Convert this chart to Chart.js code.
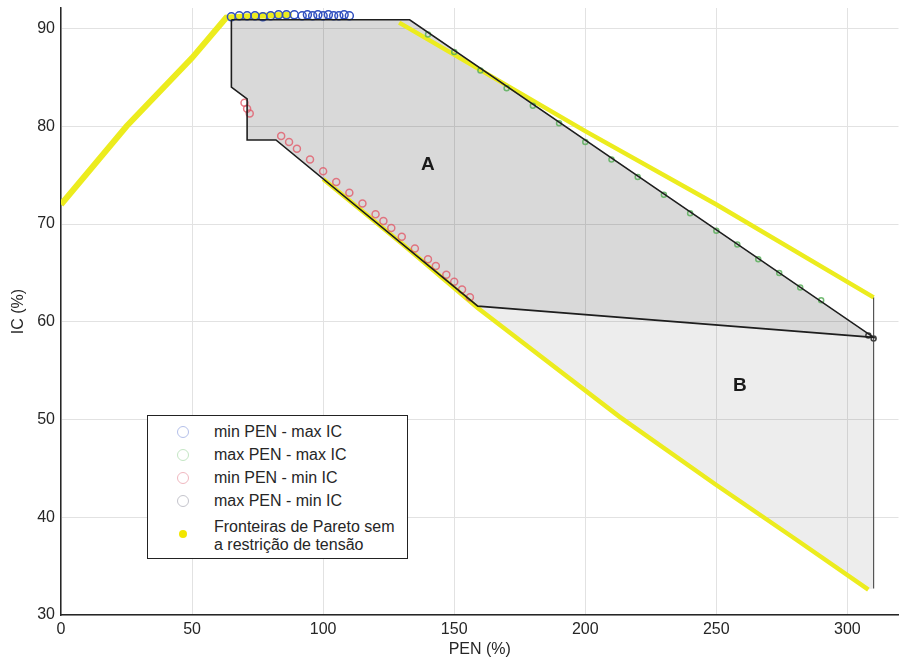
<!DOCTYPE html>
<html>
<head>
<meta charset="utf-8">
<script src="https://cdn.jsdelivr.net/npm/chart.js@4.4.1/dist/chart.umd.min.js"></script>
<style>
  body { margin: 0; background: #fff; }
  #wrap { position: relative; width: 904px; height: 664px; }
  #legend {
    position: absolute; left: 147px; top: 415px; width: 259px; height: 142px;
    border: 1px solid #222; background: #fff;
    font-family: "Liberation Sans", Arial, sans-serif; font-size: 16px; color: #262626;
  }
  #legend .mk { position: absolute; left: 29px; width: 10px; height: 10px; border-radius: 50%; border: 1px solid; }
  #legend .dot { position: absolute; left: 31px; width: 8px; height: 8px; border-radius: 50%; background: #f2e600; }
  #legend .tx { position: absolute; left: 66px; line-height: 18px; white-space: nowrap; }
</style>
</head>
<body>
<div id="wrap">
  <canvas id="chart" width="904" height="664"></canvas>
  <div id="legend">
    <span class="mk" style="top:10px;border-color:#b4c0ea"></span><span class="tx" style="top:7px">min PEN - max IC</span>
    <span class="mk" style="top:33px;border-color:#c4e6c4"></span><span class="tx" style="top:30px">max PEN - max IC</span>
    <span class="mk" style="top:56px;border-color:#f0b8c0"></span><span class="tx" style="top:53px">min PEN - min IC</span>
    <span class="mk" style="top:79px;border-color:#c4c4cc"></span><span class="tx" style="top:76px">max PEN - min IC</span>
    <span class="dot" style="top:114px"></span><span class="tx" style="top:102px">Fronteiras de Pareto sem<br>a restrição de tensão</span>
  </div>
</div>
<script>
// axis ticks
const penTicks = [0, 50, 100, 150, 200, 250, 300];
const icTicks = [30, 40, 50, 60, 70, 80, 90];

// region A outline (PEN, IC)
const areaA_pen = [65, 65, 71, 71, 82, 159, 310, 133, 65];
const areaA_ic = [90.9, 84, 82.8, 78.6, 78.6, 61.6, 58.4, 90.9, 90.9];

// region B
const areaB_pen = [159, 310, 310, 308, 213, 159];
const areaB_ic = [61.6, 58.4, 32.7, 32.6, 50.3, 61.4];
const edgeB_pen = [310, 310];
const edgeB_ic = [62.5, 32.7];

// Pareto fronts without voltage restriction (yellow)
const paretoLeft_pen = [0, 25, 50, 63, 75, 88];
const paretoLeft_ic = [72, 80, 87, 91.1, 91.3, 91.4];
const paretoUpper_pen = [129, 200, 250, 310];
const paretoUpper_ic = [90.6, 79.5, 72, 62.5];
const paretoLower_pen = [100, 130, 159, 213, 250, 280, 308];
const paretoLower_ic = [74.6, 68, 61.4, 50.3, 43.3, 37.8, 32.6];

// markers
const minPenMaxIc_pen = [65, 68, 71, 74, 77, 80, 83, 86, 89, 92, 94, 96, 98, 100, 102, 104, 106, 108, 110];
const minPenMaxIc_ic = [91.2, 91.3, 91.3, 91.3, 91.2, 91.3, 91.4, 91.4, 91.4, 91.3, 91.4, 91.3, 91.4, 91.3, 91.4, 91.3, 91.3, 91.4, 91.3];
const maxPenMaxIc_pen = [140, 150, 160, 170, 180, 190, 200, 210, 220, 230, 240, 250, 258, 266, 274, 282, 290];
const maxPenMaxIc_ic = [89.4, 87.6, 85.7, 83.9, 82.1, 80.3, 78.4, 76.6, 74.8, 73, 71.1, 69.3, 67.9, 66.4, 65, 63.5, 62.2];
const minPenMinIc_pen = [70, 71, 72, 84, 87, 90, 95, 100, 105, 110, 115, 120, 123, 126, 130, 135, 140, 143, 147, 150, 153, 156];
const minPenMinIc_ic = [82.4, 81.8, 81.3, 79, 78.4, 77.7, 76.6, 75.4, 74.3, 73.2, 72.1, 71, 70.3, 69.6, 68.7, 67.5, 66.4, 65.7, 64.8, 64.1, 63.3, 62.5];
const maxPenMinIc_pen = [308, 310];
const maxPenMinIc_ic = [58.6, 58.3];

// region labels
const regionLabels = ['A', 'B'];
const regionLabel_pen = [140, 259];
const regionLabel_ic = [76.1, 53.5];

const pts = (xs, ys) => xs.map((x, i) => ({ x: x, y: ys[i] }));

const labelPlugin = {
  id: 'regionLabels',
  afterDatasetsDraw(chart) {
    const ctx = chart.ctx;
    const xs = chart.scales.x, ys = chart.scales.y;
    ctx.save();
    ctx.font = 'bold 19px "Liberation Sans", Arial, sans-serif';
    ctx.fillStyle = '#1a1a1a';
    ctx.textAlign = 'center';
    ctx.textBaseline = 'middle';
    regionLabels.forEach((t, i) => {
      ctx.fillText(t, xs.getPixelForValue(regionLabel_pen[i]), ys.getPixelForValue(regionLabel_ic[i]));
    });
    ctx.restore();
  }
};

const yellow = '#ecec1e';
const lineSet = (data, color, width, order) => ({
  data: data, showLine: true, borderColor: color, borderWidth: width,
  pointRadius: 0, fill: false, order: order, tension: 0
});
const markerSet = (data, color, r, order) => ({
  data: data, showLine: false, pointRadius: r, pointBorderWidth: 1.5,
  pointBorderColor: color, pointBackgroundColor: 'rgba(0,0,0,0)', order: order
});
const noPad = s => { s.paddingTop = 0; s.paddingBottom = 0; s.paddingLeft = 0; s.paddingRight = 0; };

new Chart(document.getElementById('chart'), {
  type: 'scatter',
  data: {
    datasets: [
      { data: pts(areaB_pen, areaB_ic), showLine: true, borderWidth: 0, pointRadius: 0,
        backgroundColor: 'rgba(0,0,0,0.07)', fill: 'shape', order: 20 },
      { data: pts(areaA_pen, areaA_ic), showLine: true, borderWidth: 0, pointRadius: 0,
        backgroundColor: 'rgba(0,0,0,0.15)', fill: 'shape', order: 19 },
      lineSet(pts(edgeB_pen, edgeB_ic), '#555555', 1.2, 18),
      lineSet(pts(paretoLeft_pen, paretoLeft_ic), yellow, 6, 10),
      lineSet(pts(paretoUpper_pen, paretoUpper_ic), yellow, 4.5, 10),
      lineSet(pts(paretoLower_pen, paretoLower_ic), yellow, 4.5, 10),
      markerSet(pts(maxPenMaxIc_pen, maxPenMaxIc_ic), 'rgba(90,175,90,0.85)', 2.5, 6),
      markerSet(pts(minPenMinIc_pen, minPenMinIc_ic), 'rgba(225,90,105,0.8)', 3.5, 6),
      markerSet(pts(minPenMaxIc_pen, minPenMaxIc_ic), '#2f4fbf', 4, 5),
      markerSet(pts(maxPenMinIc_pen, maxPenMinIc_ic), '#444444', 2.5, 5),
      lineSet(pts(areaA_pen, areaA_ic), '#1e1e1e', 1.6, 2)
    ]
  },
  options: {
    responsive: false,
    animation: false,
    devicePixelRatio: 1,
    layout: { padding: { top: 8, right: 0, left: 0, bottom: 0 } },
    plugins: { legend: { display: false }, tooltip: { enabled: false } },
    scales: {
      x: {
        type: 'linear', min: 0, max: 319.5,
        afterFit: s => { s.height = 49; noPad(s); },
        afterBuildTicks: s => { s.ticks = penTicks.map(v => ({ value: v })); },
        ticks: { color: '#262626', font: { family: '"Liberation Sans", Arial, sans-serif', size: 16 }, padding: 5, maxRotation: 0 },
        grid: { color: '#e2e2e2', drawTicks: false },
        border: { color: '#262626', width: 1.5 },
        title: { display: true, text: 'PEN (%)', color: '#262626',
          font: { family: '"Liberation Sans", Arial, sans-serif', size: 16 }, padding: { top: 0, bottom: 5 } }
      },
      y: {
        type: 'linear', min: 30, max: 92.1,
        afterFit: s => { s.width = 61; noPad(s); },
        afterBuildTicks: s => { s.ticks = icTicks.map(v => ({ value: v })); },
        ticks: { color: '#262626', font: { family: '"Liberation Sans", Arial, sans-serif', size: 16 }, padding: 6 },
        grid: { color: '#e2e2e2', drawTicks: false },
        border: { color: '#262626', width: 1.5 },
        title: { display: true, text: 'IC (%)', color: '#262626',
          font: { family: '"Liberation Sans", Arial, sans-serif', size: 16 }, padding: { top: 9, bottom: 0 } }
      }
    }
  },
  plugins: [labelPlugin]
});
</script>
</body>
</html>
